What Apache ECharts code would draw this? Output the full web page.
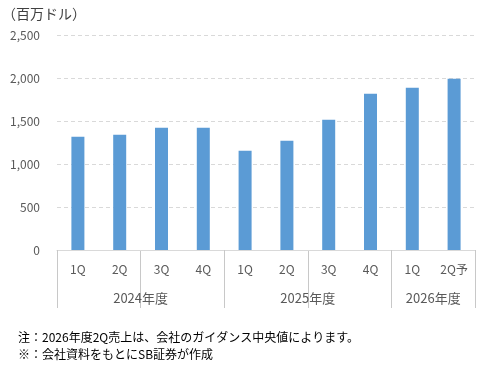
<!DOCTYPE html>
<html><head><meta charset="utf-8">
<script src="https://cdn.jsdelivr.net/npm/echarts@6/dist/echarts.min.js"></script>
<style>html,body{margin:0;padding:0;background:#fff}#c{width:480px;height:370px}</style>
</head><body><div id="c"></div>
<script>
var quarters = ['1Q','2Q','3Q','4Q','1Q','2Q','3Q','4Q','1Q','2Q予'];
var sales = [1317, 1340, 1422, 1422, 1155, 1271, 1515, 1817, 1887, 1990];
var years = ['2024年度','2025年度','2026年度'];
var yearStarts = [0, 4, 8];
var yearBounds = [0, 4, 8, 10];
var yearCenters = [2, 6, 9];
var yTicks = [0, 500, 1000, 1500, 2000, 2500];
var unitLabel = '（百万ドル）';
var notes = ['注：2026年度2Q売上は、会社のガイダンス中央値によります。', '※：会社資料をもとにSB証券が作成'];

var font = '"Noto Sans CJK JP", "Noto Sans", sans-serif';
var sepColor = '#c8c8c8';
var chart = echarts.init(document.getElementById('c'), null, {renderer: 'canvas'});
chart.setOption({
  animation: false,
  textStyle: {fontFamily: font},
  grid: [
    {left: 57, right: 5, top: 35, bottom: 120, containLabel: false},
    {left: 57, right: 5, top: 250, height: 58, containLabel: false}
  ],
  graphic: [
    {type: 'text', left: 2, top: 7, style: {text: unitLabel, font: '14px ' + font, fill: '#404040'}},
    {type: 'text', left: 18, top: 331, style: {text: notes[0], font: '12px ' + font, fill: '#000'}},
    {type: 'text', left: 18, top: 348, style: {text: notes[1], font: '12px ' + font, fill: '#000'}}
  ],
  xAxis: [{
    type: 'category', data: quarters, position: 'bottom', gridIndex: 0,
    axisLine: {lineStyle: {color: '#d9d9d9', width: 1}},
    axisTick: {show: false},
    axisLabel: {color: '#595959', fontSize: 12, margin: 13, interval: 0}
  }, {
    type: 'value', min: 0, max: 10, position: 'bottom', gridIndex: 0,
    axisLine: {show: false},
    axisTick: {show: false},
    axisLabel: {customValues: yearCenters, margin: 42, color: '#595959', fontSize: 13,
      formatter: function (v) { return years[yearCenters.indexOf(v)] || ''; }},
    splitLine: {show: false}
  }, {
    type: 'value', min: 0, max: 10, gridIndex: 1, position: 'top',
    axisLine: {show: false}, axisTick: {show: false}, axisLabel: {show: false},
    splitLine: {show: true, lineStyle: {color: sepColor, width: 1}}
  }],
  yAxis: [{
    type: 'value', min: yTicks[0], max: yTicks[yTicks.length - 1], interval: 500, gridIndex: 0,
    axisLine: {show: false}, axisTick: {show: false},
    axisLabel: {color: '#595959', fontSize: 12, margin: 17,
      formatter: function (v) { return v.toLocaleString('en-US'); }},
    splitLine: {lineStyle: {color: '#d9d9d9', type: [4, 3]}}
  }, {
    type: 'value', min: 0, max: 1, gridIndex: 1,
    axisLine: {show: false}, axisTick: {show: false}, axisLabel: {show: false}, splitLine: {show: false}
  }],
  series: [{
    type: 'bar', data: sales, barWidth: 13, xAxisIndex: 0, yAxisIndex: 0,
    itemStyle: {color: '#5B9BD5'}
  }, {
    type: 'line', data: [], xAxisIndex: 2, yAxisIndex: 1, silent: true,
    markLine: {
      silent: true, symbol: 'none', label: {show: false},
      lineStyle: {color: sepColor, width: 1, type: 'solid'},
      data: yearBounds.map(function (b) { return {xAxis: b}; })
    }
  }]
});
</script></body></html>
